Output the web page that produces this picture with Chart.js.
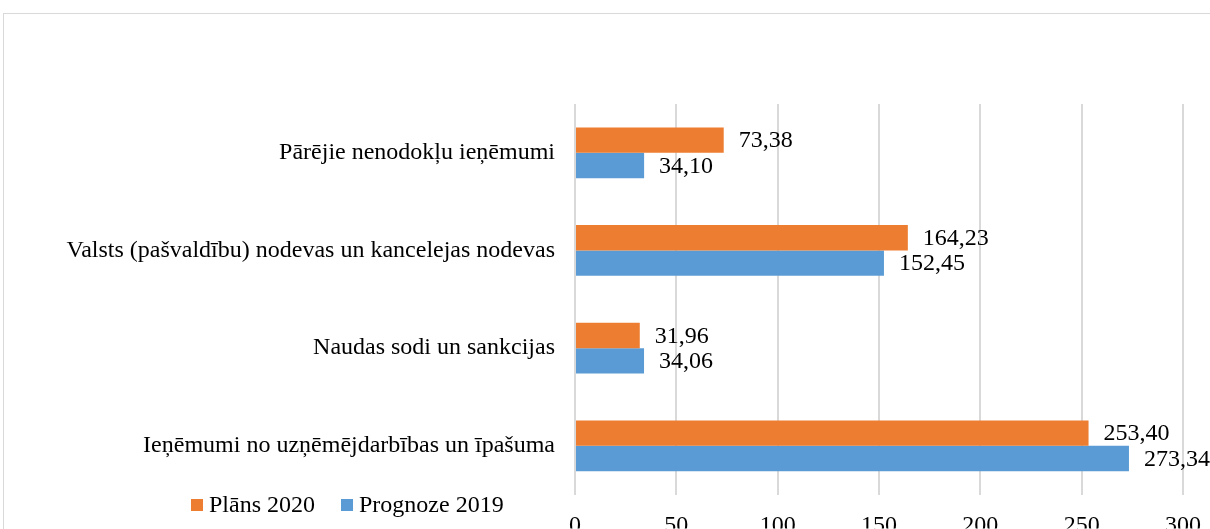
<!DOCTYPE html>
<html>
<head>
<meta charset="utf-8">
<script src="https://cdn.jsdelivr.net/npm/chart.js@4/dist/chart.umd.min.js"></script>
<style>
  html, body { margin: 0; padding: 0; background: #fff; overflow: hidden; }
  #frame { position: absolute; left: 3px; top: 13px; width: 1300px; height: 600px; border: 1px solid #d9d9d9; }
  #chart { position: absolute; left: 0; top: 0; }
</style>
</head>
<body>
<div id="frame"></div>
<canvas id="chart" width="1210" height="529"></canvas>
<script>
const categories = [
  "Pārējie nenodokļu ieņēmumi",
  "Valsts (pašvaldību) nodevas un kancelejas nodevas",
  "Naudas sodi un sankcijas",
  "Ieņēmumi no uzņēmējdarbības un īpašuma"
];
const plans2020 = [73.38, 164.23, 31.96, 253.40];
const prognoze2019 = [34.10, 152.45, 34.06, 273.34];
const seriesNames = ["Plāns 2020", "Prognoze 2019"];
const seriesColors = ["#ED7D31", "#5B9BD5"];

const FONT = "'Liberation Serif', 'Times New Roman', serif";

// value labels at the end of each bar, decimal comma
const valueLabels = {
  id: "valueLabels",
  afterDatasetsDraw(chart) {
    const ctx = chart.ctx;
    ctx.save();
    ctx.font = "24px " + FONT;
    ctx.fillStyle = "#000";
    ctx.textAlign = "left";
    ctx.textBaseline = "middle";
    chart.data.datasets.forEach((ds, i) => {
      chart.getDatasetMeta(i).data.forEach((bar, j) => {
        const txt = ds.data[j].toFixed(2).replace(".", ",");
        ctx.fillText(txt, bar.x + 15, bar.y + 1);
      });
    });
    ctx.restore();
  }
};

// legend sits bottom-left, next to the x axis labels
const bottomLegend = {
  id: "bottomLegend",
  afterDraw(chart) {
    const ctx = chart.ctx;
    ctx.save();
    ctx.font = "24px " + FONT;
    ctx.textBaseline = "middle";
    ctx.textAlign = "left";
    let x = 191;
    const y = 505;
    chart.data.datasets.forEach(ds => {
      ctx.fillStyle = ds.backgroundColor;
      ctx.fillRect(x, y - 6, 12, 12);
      ctx.fillStyle = "#000";
      ctx.fillText(ds.label, x + 18, y + 1);
      x += 18 + ctx.measureText(ds.label).width + 26;
    });
    ctx.restore();
  }
};

new Chart(document.getElementById("chart"), {
  type: "bar",
  data: {
    labels: categories,
    datasets: [
      { label: seriesNames[0], data: plans2020, backgroundColor: seriesColors[0] },
      { label: seriesNames[1], data: prognoze2019, backgroundColor: seriesColors[1] }
    ]
  },
  options: {
    indexAxis: "y",
    responsive: false,
    animation: false,
    categoryPercentage: 0.52,
    barPercentage: 1.0,
    layout: { padding: { top: 104, right: 27, left: 0, bottom: 0 } },
    plugins: {
      legend: { display: false },
      tooltip: { enabled: false }
    },
    scales: {
      x: {
        min: 0,
        max: 300,
        ticks: { stepSize: 50, padding: 17, color: "#000", font: { family: FONT, size: 24 } },
        grid: { color: "#d9d9d9", lineWidth: 2, drawTicks: false },
        border: { display: false },
        afterFit(scale) {
          scale.height = 34;
          scale.paddingLeft = 0;
          scale.paddingRight = 0;
        }
      },
      y: {
        ticks: { padding: 20, color: "#000", font: { family: FONT, size: 24 } },
        grid: { display: false, drawTicks: false },
        border: { display: false },
        afterFit(scale) { scale.width = 575; }
      }
    }
  },
  plugins: [valueLabels, bottomLegend]
});
</script>
</body>
</html>
